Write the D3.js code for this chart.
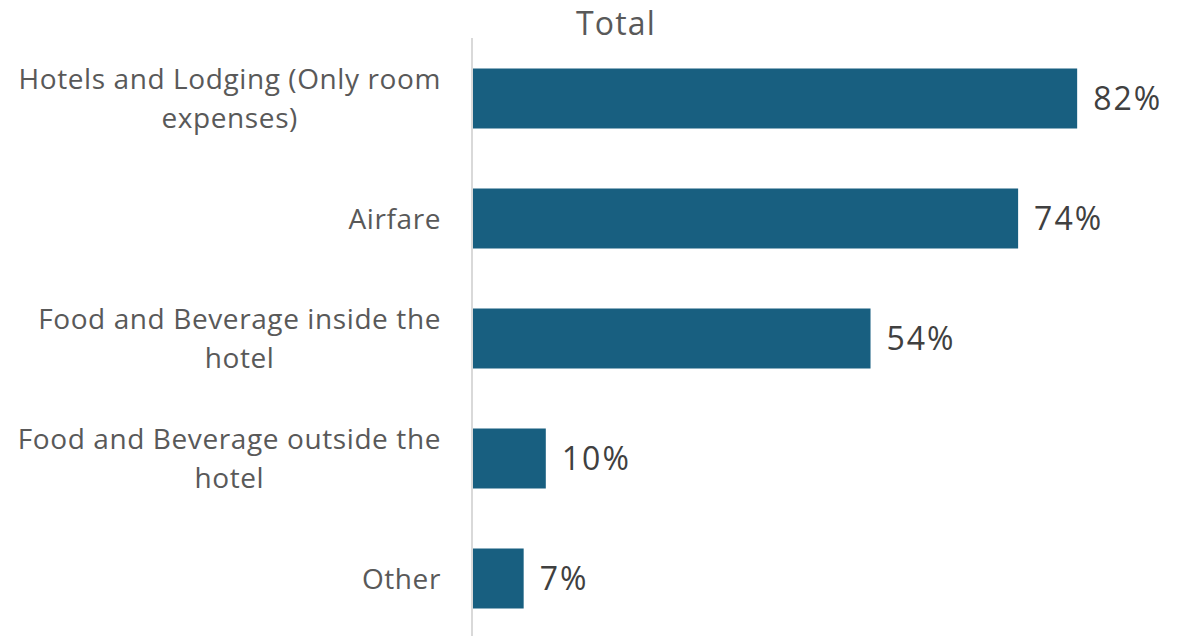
<!DOCTYPE html>
<html>
<head>
<meta charset="utf-8">
<script src="https://cdn.jsdelivr.net/npm/d3@7/dist/d3.min.js"></script>
<style>
  html, body { margin: 0; padding: 0; background: #fff; }
  svg { display: block; font-family: "Open Sans", "Noto Sans", sans-serif; }
</style>
</head>
<body>
<svg id="chart" width="1189" height="636"></svg>
<script>
// Share of respondents by expense category
const categories = [
  ["Hotels and Lodging (Only room", "expenses)"],
  ["Airfare"],
  ["Food and Beverage inside the", "hotel"],
  ["Food and Beverage outside the", "hotel"],
  ["Other"]
];
const values = [82, 74, 54, 10, 7];
const chartTitle = "Total";

const svg = d3.select("#chart");
const W = 1189, H = 636;
const x0 = 472;
const keys = categories.map(c => c.join(" "));

const x = d3.scaleLinear().domain([0, 100]).range([x0, x0 + 738]);
const y = d3.scaleBand().domain(keys).range([38.5, 638.5])
  .paddingInner(0.5).paddingOuter(0.25);

// Title
svg.append("text")
  .attr("x", 616).attr("y", 35)
  .attr("text-anchor", "middle")
  .attr("font-size", 32)
  .attr("letter-spacing", 1.2)
  .attr("fill", "#595959")
  .text(chartTitle);

// Bars
svg.append("g").selectAll("rect")
  .data(values)
  .join("rect")
  .attr("x", x(0))
  .attr("y", (d, i) => y(keys[i]))
  .attr("width", d => x(d) - x(0))
  .attr("height", y.bandwidth())
  .attr("fill", "#185F80");

// Vertical category axis line
svg.append("line")
  .attr("x1", x0).attr("x2", x0)
  .attr("y1", 38).attr("y2", H)
  .attr("stroke", "#d9d9d9").attr("stroke-width", 2);

// Value labels
svg.append("g").selectAll("text")
  .data(values)
  .join("text")
  .attr("x", d => x(d) + 16)
  .attr("y", (d, i) => y(keys[i]) + y.bandwidth() / 2)
  .attr("dy", "0.36em")
  .attr("font-size", 32)
  .attr("letter-spacing", 2)
  .attr("fill", "#404040")
  .text(d => d + "%");

// Category labels: lines centred within a block right-aligned to the axis
const labelRight = 441;
const lineH = 39;
const labels = svg.append("g");
categories.forEach((lines, i) => {
  const g = labels.append("g");
  const cy = y(keys[i]) + y.bandwidth() / 2;
  const texts = lines.map((t, j) => g.append("text")
    .attr("font-size", 28)
    .attr("letter-spacing", 0.6)
    .attr("fill", "#595959")
    .attr("text-anchor", "middle")
    .attr("y", cy + (j - (lines.length - 1) / 2) * lineH)
    .attr("dy", "0.36em")
    .text(t));
  const maxW = d3.max(texts, t => t.node().getComputedTextLength());
  texts.forEach(t => t.attr("x", labelRight - maxW / 2));
});
</script>
</body>
</html>
